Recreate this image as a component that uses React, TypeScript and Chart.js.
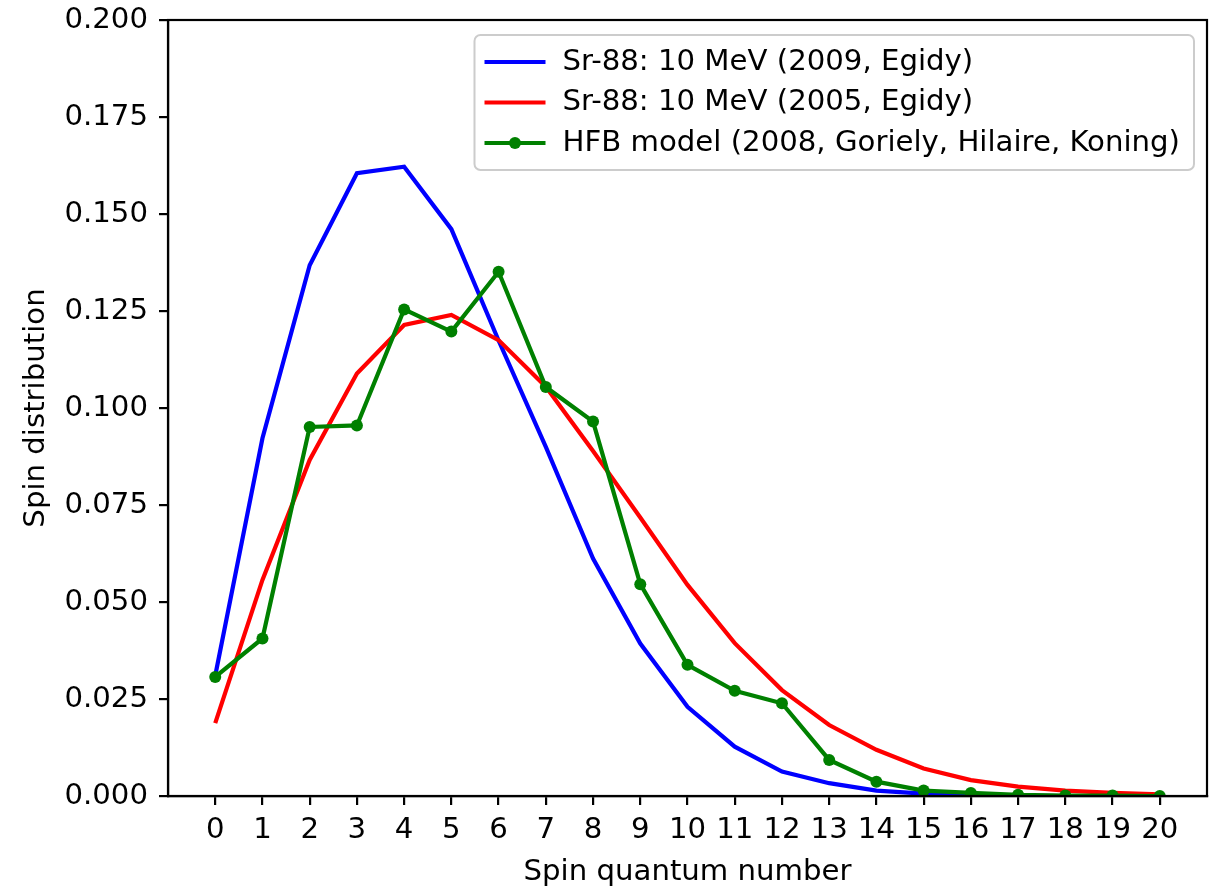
import React, { useEffect, useRef } from 'react';
import { Chart, registerables } from 'chart.js';

Chart.register(...registerables);

// ---- data ----
const spins = [0, 1, 2, 3, 4, 5, 6, 7, 8, 9, 10, 11, 12, 13, 14, 15, 16, 17, 18, 19, 20];
const egidy2009 = [0.031, 0.0922, 0.1368, 0.1605, 0.1622, 0.1461, 0.1174, 0.0900, 0.0612, 0.0393, 0.0230, 0.0127, 0.0063, 0.0033, 0.0014, 0.0006, 0.0002, 0.0001, 0.0, 0.0, 0.0];
const egidy2005 = [0.0188, 0.0557, 0.0866, 0.1089, 0.1214, 0.1240, 0.1175, 0.1055, 0.0889, 0.0718, 0.0544, 0.0394, 0.0273, 0.0183, 0.0119, 0.0071, 0.0041, 0.0024, 0.0014, 0.0008, 0.0004];
const hfb2008 = [0.0307, 0.0406, 0.0951, 0.0955, 0.1254, 0.1197, 0.1351, 0.1054, 0.0965, 0.0546, 0.0338, 0.0271, 0.0239, 0.0093, 0.0037, 0.0014, 0.0008, 0.0003, 0.0001, 0.0001, 0.0];
const seriesLabels = [
  'Sr-88: 10 MeV (2009, Egidy)',
  'Sr-88: 10 MeV (2005, Egidy)',
  'HFB model (2008, Goriely, Hilaire, Koning)',
];
const xTicks = spins;
const yTicks = [0, 0.025, 0.05, 0.075, 0.1, 0.125, 0.15, 0.175, 0.2];
const xTitle = 'Spin quantum number';
const yTitle = 'Spin distribution';

const FAMILY = '"DejaVu Sans", sans-serif';
const FS = 29.2;

const framePlugin = {
  id: 'frameBox',
  afterDatasetsDraw(chart: any) {
    const { ctx, chartArea: a } = chart;
    ctx.save();
    ctx.strokeStyle = '#000';
    ctx.lineWidth = 2.2;
    ctx.strokeRect(Math.round(a.left), Math.round(a.top), Math.round(a.right - a.left), Math.round(a.bottom - a.top));
    ctx.restore();
  },
};

const legendPlugin = {
  id: 'boxLegend',
  afterDraw(chart: any) {
    const { ctx, chartArea: a } = chart;
    const ds = chart.data.datasets;
    ctx.save();
    ctx.font = `${FS}px ${FAMILY}`;
    const textW = Math.max(...ds.map((d: any) => ctx.measureText(d.label).width));
    const w = 88 + textW + 14;
    const h = 135;
    const right = a.right - 13;
    const left = right - w;
    const top = a.top + 15;
    ctx.beginPath();
    ctx.roundRect(left, top, w, h, 6);
    ctx.fillStyle = 'rgba(255,255,255,0.8)';
    ctx.fill();
    ctx.strokeStyle = '#cccccc';
    ctx.lineWidth = 2;
    ctx.stroke();
    ds.forEach((d: any, i: number) => {
      const y = top + 27 + i * 40.5;
      ctx.beginPath();
      ctx.strokeStyle = d.borderColor;
      ctx.lineWidth = d.borderWidth;
      ctx.moveTo(left + 10, y);
      ctx.lineTo(left + 71, y);
      ctx.stroke();
      if (d.pointRadius > 0) {
        ctx.beginPath();
        ctx.fillStyle = d.pointBackgroundColor;
        ctx.arc(left + 40.5, y, d.pointRadius, 0, Math.PI * 2);
        ctx.fill();
      }
      ctx.fillStyle = '#000';
      ctx.textBaseline = 'middle';
      ctx.textAlign = 'left';
      ctx.fillText(d.label, left + 88, y);
    });
    ctx.restore();
  },
};

export default function App() {
  const ref = useRef<HTMLCanvasElement | null>(null);

  useEffect(() => {
    if (!ref.current) return;
    const mk = (vals: number[]) => spins.map((s, i) => ({ x: s, y: vals[i] }));
    const tickFont = { family: FAMILY, size: FS };
    const titleFont = { family: FAMILY, size: FS, lineHeight: 1 };
    const chart = new Chart(ref.current, {
      type: 'line',
      data: {
        datasets: [
          {
            label: seriesLabels[0],
            data: mk(egidy2009),
            borderColor: '#0000ff',
            backgroundColor: '#0000ff',
            borderWidth: 4.2,
            pointRadius: 0,
            tension: 0,
            order: 3,
          },
          {
            label: seriesLabels[1],
            data: mk(egidy2005),
            borderColor: '#ff0000',
            backgroundColor: '#ff0000',
            borderWidth: 4.2,
            pointRadius: 0,
            tension: 0,
            order: 2,
          },
          {
            label: seriesLabels[2],
            data: mk(hfb2008),
            borderColor: '#008000',
            backgroundColor: '#008000',
            pointBackgroundColor: '#008000',
            pointBorderWidth: 0,
            borderWidth: 4.2,
            pointRadius: 6,
            tension: 0,
            order: 1,
          },
        ],
      },
      options: {
        animation: false,
        responsive: false,
        maintainAspectRatio: false,
        devicePixelRatio: 1,
        layout: { padding: { top: 20, right: 15, bottom: 0, left: 0 } },
        plugins: {
          legend: { display: false },
          tooltip: { enabled: false },
        },
        scales: {
          x: {
            type: 'linear',
            min: -1,
            max: 21,
            afterBuildTicks: (s: any) => {
              s.ticks = xTicks.map((v) => ({ value: v }));
            },
            afterFit: (s: any) => {
              s.height = 91;
              s.paddingLeft = 0;
              s.paddingRight = 0;
            },
            ticks: {
              font: tickFont,
              color: '#000',
              padding: 8,
              maxRotation: 0,
              autoSkip: false,
              callback: (v: any) => String(v),
            },
            grid: {
              drawOnChartArea: false,
              drawTicks: true,
              tickLength: 9,
              tickWidth: 2.2,
              tickColor: '#000',
              color: '#000',
              lineWidth: 2.2,
            },
            border: { display: true, color: '#000', width: 2.2 },
            title: {
              display: true,
              text: xTitle,
              font: titleFont,
              color: '#000',
              padding: { top: 0, bottom: 0 },
            },
          },
          y: {
            type: 'linear',
            min: 0,
            max: 0.2,
            afterBuildTicks: (s: any) => {
              s.ticks = yTicks.map((v) => ({ value: v }));
            },
            afterFit: (s: any) => {
              s.width = 168;
              s.paddingTop = 0;
              s.paddingBottom = 0;
            },
            ticks: {
              font: tickFont,
              color: '#000',
              padding: 11,
              autoSkip: false,
              callback: (v: any) => Number(v).toFixed(3),
            },
            grid: {
              drawOnChartArea: false,
              drawTicks: true,
              tickLength: 9,
              tickWidth: 2.2,
              tickColor: '#000',
              color: '#000',
              lineWidth: 2.2,
            },
            border: { display: true, color: '#000', width: 2.2 },
            title: {
              display: true,
              text: yTitle,
              font: titleFont,
              color: '#000',
              padding: { top: 22, bottom: 0 },
            },
          },
        },
      },
      plugins: [framePlugin, legendPlugin],
    } as any);
    return () => chart.destroy();
  }, []);

  return (
    <canvas
      ref={ref}
      width={1222}
      height={887}
      style={{ position: 'absolute', left: 0, top: 0, width: 1222, height: 887, display: 'block' }}
    />
  );
}
